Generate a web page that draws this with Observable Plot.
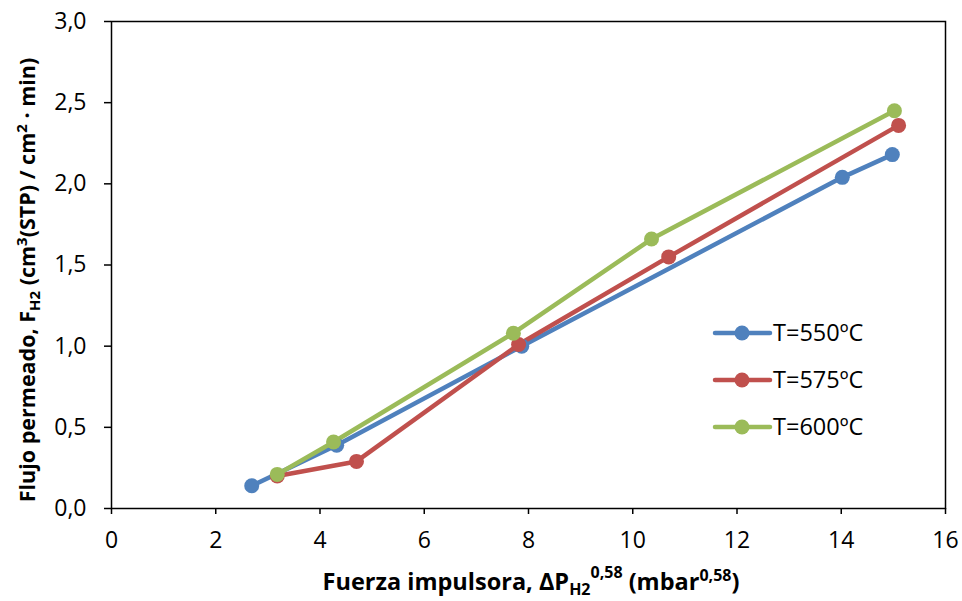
<!DOCTYPE html>
<html><head><meta charset="utf-8">
<script src="https://cdn.jsdelivr.net/npm/d3@7"></script>
<script src="https://cdn.jsdelivr.net/npm/@observablehq/plot@0.6"></script>
<style>
html,body{margin:0;padding:0;background:#fff;}
#chart{width:962px;height:601px;}
</style></head>
<body><div id="chart"></div>
<script>
const seriesNames = ["T=550ºC", "T=575ºC", "T=600ºC"];
const colors = ["#4F81BD", "#C0504D", "#9BBB59"];
const x550 = [2.69, 4.32, 7.87, 14.02, 14.98];
const y550 = [0.14, 0.39, 1.00, 2.04, 2.18];
const x575 = [3.18, 4.70, 7.81, 10.69, 15.10];
const y575 = [0.20, 0.29, 1.01, 1.55, 2.36];
const x600 = [3.18, 4.26, 7.71, 10.36, 15.02];
const y600 = [0.21, 0.41, 1.08, 1.66, 2.45];
const xTicks = [0, 2, 4, 6, 8, 10, 12, 14, 16];
const yTicks = [0, 0.5, 1.0, 1.5, 2.0, 2.5, 3.0];

const xs = [x550, x575, x600], ys = [y550, y575, y600];
const data = [];
seriesNames.forEach((s, i) => xs[i].forEach((x, j) => data.push({series: s, x, y: ys[i][j]})));

const font = "'Open Sans', 'Noto Sans', sans-serif";
const plot = Plot.plot({
  width: 962, height: 601,
  marginLeft: 111, marginRight: 17, marginTop: 21, marginBottom: 93,
  style: {fontFamily: font, fontSize: "22px", color: "#000", background: "#fff"},
  x: {domain: [0, 16], ticks: xTicks, tickSize: 6, tickPadding: 17, label: null, line: false},
  y: {domain: [0, 3], ticks: yTicks, tickSize: 7, tickPadding: 18, label: null,
      tickFormat: d => d3.format(".1f")(d).replace(".", ",")},
  color: {domain: seriesNames, range: colors},
  marks: [
    Plot.frame({stroke: "#000", strokeWidth: 1.5}),
    Plot.lineY(data, {x: "x", y: "y", z: "series", stroke: "series", strokeWidth: 4.5}),
    Plot.dot(data, {x: "x", y: "y", fill: "series", r: 7.5})
  ]
});
document.getElementById("chart").appendChild(plot);

const svg = d3.select(plot);
svg.selectAll("[aria-label='x-axis tick'] path, [aria-label='y-axis tick'] path").attr("stroke-width", 1.5);
svg.selectAll("g").filter(function() { return this.querySelector(":scope > text"); })
  .attr("font-size", 23).style("font-size", "23px");
svg.selectAll("text").attr("font-size", 23).style("font-size", "23px");

// X axis label
const xl = svg.append("text").attr("x", 531).attr("y", 590).attr("text-anchor", "middle")
  .attr("font-family", font).attr("font-size", 23.5).attr("font-weight", "bold");
xl.append("tspan").text("Fuerza impulsora, ΔP");
xl.append("tspan").attr("font-size", 16).attr("dy", 5).text("H2");
xl.append("tspan").attr("font-size", 16).attr("dy", -17).text("0,58");
xl.append("tspan").attr("dy", 12).text(" (mbar");
xl.append("tspan").attr("font-size", 16).attr("dy", -9).text("0,58");
xl.append("tspan").attr("dy", 9).text(")");

// Y axis label
const yl = svg.append("text").attr("transform", "translate(35,280) rotate(-90)").attr("text-anchor", "middle")
  .attr("font-family", font).attr("font-size", 21.5).attr("font-weight", "bold");
yl.append("tspan").text("Flujo permeado, F");
yl.append("tspan").attr("font-size", 15).attr("dy", 5).text("H2");
yl.append("tspan").attr("dy", -5).text(" (cm");
yl.append("tspan").attr("font-size", 15).attr("dy", -8).text("3");
yl.append("tspan").attr("dy", 8).text("(STP) / cm");
yl.append("tspan").attr("font-size", 15).attr("dy", -8).text("2");
yl.append("tspan").attr("dy", 8).text(" · min)");

// Legend
const lg = svg.append("g");
seriesNames.forEach((s, i) => {
  const cy = 333 + i * 47;
  lg.append("line").attr("x1", 715).attr("x2", 770).attr("y1", cy).attr("y2", cy)
    .attr("stroke", colors[i]).attr("stroke-width", 4.5).attr("stroke-linecap", "round");
  lg.append("circle").attr("cx", 742).attr("cy", cy).attr("r", 7.5).attr("fill", colors[i]);
  lg.append("text").attr("x", 773).attr("y", cy + 8).attr("text-anchor", "start")
    .attr("font-family", font).attr("font-size", 23.5).text(s);
});
</script></body></html>
